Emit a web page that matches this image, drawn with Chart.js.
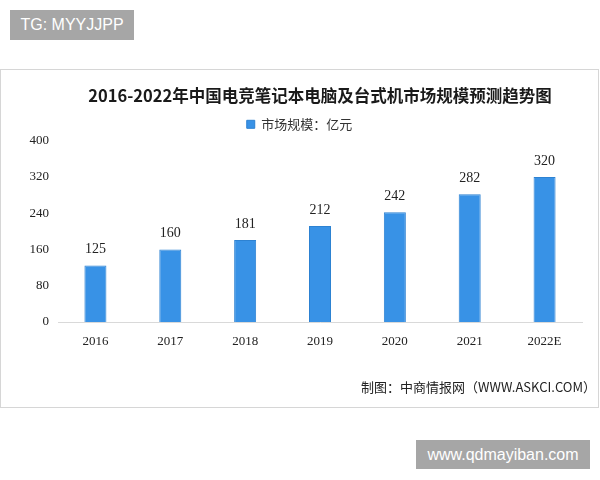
<!DOCTYPE html>
<html>
<head>
<meta charset="utf-8">
<script src="https://cdn.jsdelivr.net/npm/chart.js@4"></script>
<style>
body{margin:0;width:600px;height:480px;background:#fff;position:relative;overflow:hidden;font-family:"Liberation Sans",Arial,sans-serif}
.tag{position:absolute;background:#a6a6a6;color:#fff;font-size:16px;line-height:30px;text-align:center}
#tag1{left:10px;top:10px;width:124px;height:30px}
#tag2{left:416px;top:440px;width:174px;height:29px;line-height:29px}
#box{position:absolute;left:0;top:69px;width:597px;height:337px;border:1px solid #d6d6d6}
</style>
</head>
<body>
<div class="tag" id="tag1">TG: MYYJJPP</div>
<div id="box"><canvas id="js--chart"></canvas></div>
<div class="tag" id="tag2">www.qdmayiban.com</div>

<script>
// data
const years = ["2016", "2017", "2018", "2019", "2020", "2021", "2022E"];
const marketSize = [125, 160, 181, 212, 242, 282, 320];
const seriesName = "市场规模：亿元";
const chartTitle = "2016-2022年中国电竞笔记本电脑及台式机市场规模预测趋势图";
const sourceText = "制图：中商情报网（WWW.ASKCI.COM）";

const serif = '"Liberation Serif", "Noto Sans CJK SC", serif';
const cjk = '"Noto Sans CJK SC", sans-serif';

// numbers over the bars
const barLabels = {
    id: "barLabels",
    afterDatasetsDraw(chart){
        const ctx = chart.ctx;
        const meta = chart.getDatasetMeta(0);
        ctx.save();
        ctx.font = "14px " + serif;
        ctx.fillStyle = "#222";
        ctx.textAlign = "center";
        ctx.textBaseline = "middle";
        meta.data.forEach(function(bar, i){
            ctx.fillText(marketSize[i], bar.x, bar.y - 16);
        });
        ctx.restore();
    }
};

// source line bottom right
const sourceLine = {
    id: "sourceLine",
    afterDraw(chart){
        const ctx = chart.ctx;
        ctx.save();
        ctx.font = "13px " + cjk;
        ctx.fillStyle = "#222";
        ctx.textAlign = "right";
        ctx.textBaseline = "middle";
        ctx.fillText(sourceText, chart.width - 2, chart.chartArea.bottom + 65);
        ctx.restore();
    }
};

const data = {
    labels: years,
    datasets: [{
        label: seriesName,
        data: marketSize,
        backgroundColor: "#3892e6",
        borderColor: "#2d82d2",
        borderWidth: 1,
        categoryPercentage: 0.3,
        barPercentage: 0.98
    }]
};

const config = {
    type: "bar",
    data: data,
    options: {
        responsive: true,
        maintainAspectRatio: false,
        animation: false,
        layout: {padding: {top: 16, left: 0, right: 0, bottom: 0}},
        plugins: {
            title: {
                display: true,
                text: chartTitle,
                fullSize: false,
                color: "#1a1a1a",
                font: {size: 16.5, weight: "bold", family: cjk},
                padding: {top: 0, bottom: 0}
            },
            legend: {
                display: true,
                labels: {
                    boxWidth: 8,
                    boxHeight: 8,
                    padding: 12,
                    color: "#333",
                    font: {size: 13, family: cjk}
                }
            },
            tooltip: {enabled: false}
        },
        scales: {
            x: {
                grid: {display: false, drawTicks: false},
                border: {display: true, color: "#d9d9d9"},
                ticks: {color: "#222", padding: 12, font: {size: 13, family: serif}},
                afterFit: function(scale){ scale.height = 85; }
            },
            y: {
                min: 0,
                max: 400,
                grid: {display: false, drawTicks: false},
                border: {display: false},
                ticks: {stepSize: 80, color: "#222", padding: 9, font: {size: 13, family: serif}},
                afterFit: function(scale){ scale.width = 57; }
            },
            yRight: {
                position: "right",
                grid: {display: false, drawTicks: false},
                border: {display: false},
                ticks: {display: false},
                afterFit: function(scale){ scale.width = 16; }
            }
        }
    },
    plugins: [barLabels, sourceLine]
};

new Chart(document.getElementById("js--chart"), config);
</script>
</body>
</html>
